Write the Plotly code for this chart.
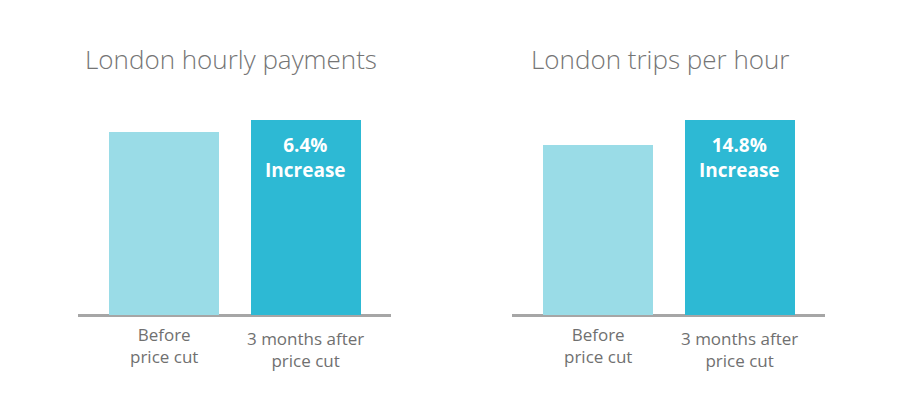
import plotly.graph_objects as go

categories = ["Before<br>price cut", "3 months after<br>price cut"]
payments = [100.0, 106.4]
trips = [100.0, 114.8]
payments_text = ["", "6.4%<br>Increase"]
trips_text = ["", "14.8%<br>Increase"]
titles = ["London hourly payments", "London trips per hour"]

colors = ["#9adce7", "#2db9d4"]
FONT = "Open Sans, Noto Sans, sans-serif"

fig = go.Figure()

W, H = 900, 400
base_px = 315
top_px = 100
plot_h = base_px - top_px
domains = [(78 / W, 391 / W), (512 / W, 825 / W)]
title_x = [231 / W, 660 / W]
series = [(payments, payments_text), (trips, trips_text)]

for i, ((vals, txt), dom, title) in enumerate(zip(series, domains, titles)):
    xa = "x" if i == 0 else "x2"
    ya = "y" if i == 0 else "y2"
    fig.add_trace(go.Bar(
        x=[0, 1], y=vals, xaxis=xa, yaxis=ya,
        marker=dict(color=colors, line=dict(width=0)),
        width=0.775,
        hoverinfo="skip", showlegend=False,
    ))
    ymax = max(vals) * plot_h / 195.0
    axis_x = dict(domain=list(dom), range=[-0.605, 1.6], showgrid=False,
                  zeroline=False, showline=False, showticklabels=False,
                  ticks="", fixedrange=True)
    axis_y = dict(domain=[(H - base_px) / H, (H - top_px) / H], range=[0, ymax],
                  showgrid=False, zeroline=True, zerolinecolor="#a6a6a6",
                  zerolinewidth=3, showline=False, showticklabels=False,
                  ticks="", fixedrange=True)
    if i == 0:
        fig.update_layout(xaxis=axis_x, yaxis=axis_y)
    else:
        axis_y["anchor"] = "x2"
        axis_x["anchor"] = "y2"
        fig.update_layout(xaxis2=axis_x, yaxis2=axis_y)
    # labels inside bars
    for j, t in enumerate(txt):
        if t:
            fig.add_annotation(
                x=j, y=vals[j], xref=xa, yref=ya, text=t, showarrow=False,
                yanchor="top", yshift=-10, align="center",
                font=dict(family=FONT, size=19, color="white", weight="bold"),
            )
    # category labels
    for j, cat in enumerate(categories):
        fig.add_annotation(
            x=j, y=(H - base_px) / H, xref=xa, yref="paper",
            text=cat, showarrow=False, yanchor="top",
            yshift=-6 - 4 * j, align="center",
            font=dict(family=FONT, size=17, color="#707070"),
        )
    fig.add_annotation(
        x=title_x[i], y=1 - 59 / H, xref="paper", yref="paper",
        text=title, showarrow=False, xanchor="center", yanchor="middle",
        font=dict(family=FONT, size=26, color="#757575", weight=300),
    )

fig.update_layout(
    width=W, height=H, margin=dict(l=0, r=0, t=0, b=0),
    paper_bgcolor="white", plot_bgcolor="white", bargap=0,
)

fig.write_html("out.html")
